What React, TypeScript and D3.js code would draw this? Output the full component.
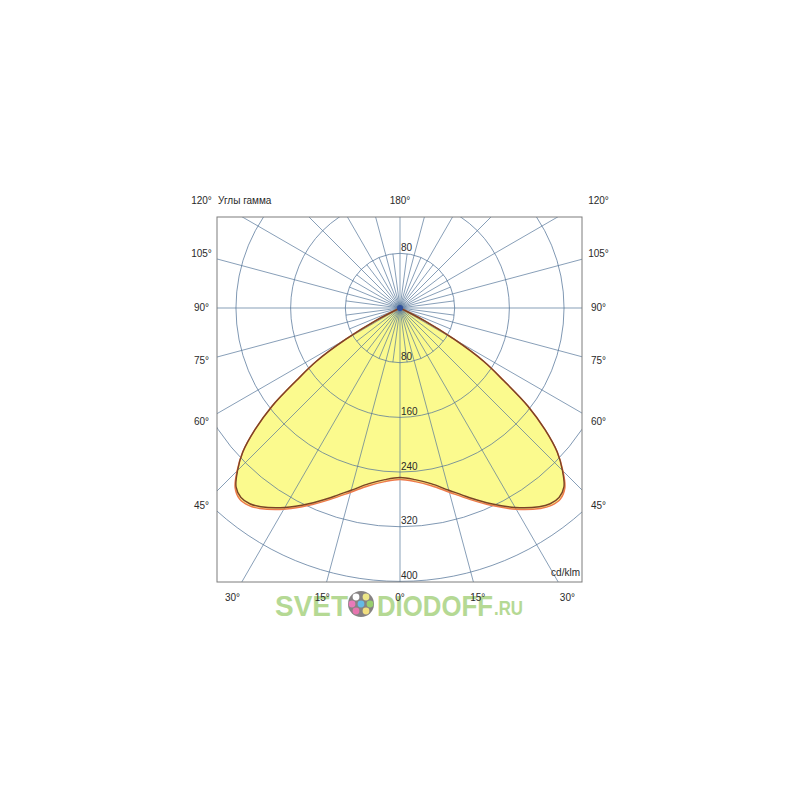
import React from "react";
import * as d3 from "d3";

// ---- data ----
const ringValues = [80, 160, 240, 320, 400];
const upperRingLabels = [80];
const sideLabelAngles = [45, 60, 75, 90, 105, 120];
const bottomLabelAngles = [0, 15, 30];
const topLabelAngles = [180];
const majorRayStep = 15;
const minorRayStep = 7.5;
const minorRayReach = 80; // cd/klm
const gammaDeg = [0, 5, 10, 15, 20, 25, 30, 35, 37.5, 40, 42.5, 45, 47.5, 50, 52.5, 55, 57.5, 60, 62.5, 65];
const c0c180 = [248, 252, 261, 276, 295, 316, 337, 355, 361, 362, 355, 336, 312, 277, 236, 185, 145, 92, 40, 0];
const c90c270 = [251, 255, 264, 279, 298, 319, 340, 358, 364, 365, 357, 337, 312, 277, 236, 185, 145, 92, 40, 0];
const titleText = "Углы гамма";
const unitText = "cd/klm";

const W = 800, H = 800;
const CX = 400, CY = 308;
const BOX = { x0: 217, y0: 217, x1: 582, y1: 582 };
const FONT = "'Liberation Sans', Arial, sans-serif";

const rScale = d3.scaleLinear().domain([0, 400]).range([0, 273.4]);
const rad = (g: number) => (g * Math.PI) / 180;

function mirrored(vals: number[]): [number, number][] {
  const left = gammaDeg.map((g, i) => [-g, vals[i]] as [number, number]).reverse();
  const right = gammaDeg.slice(1).map((g, i) => [g, vals[i + 1]] as [number, number]);
  return [...left, ...right];
}

const radial = d3
  .lineRadial<[number, number]>()
  .angle((d) => Math.PI - rad(d[0]))
  .radius((d) => rScale(d[1]))
  .curve(d3.curveCatmullRom.alpha(0.5));

export default function App() {
  const pathC0 = radial(mirrored(c0c180)) || "";
  const pathC90 = radial(mirrored(c90c270)) || "";

  const rays: { g: number; major: boolean }[] = [];
  for (let g = 0; g < 360; g += minorRayStep) rays.push({ g, major: g % majorRayStep === 0 });

  const gridColor = "#55769a";
  const textColor = "#2a2a2a";

  const sideX = 198.5;
  const sideLabels: { x: number; y: number; t: string }[] = [];
  sideLabelAngles.forEach((g) => {
    let y = CY + (sideX * Math.cos(rad(g))) / Math.sin(rad(g));
    y = Math.max(201, Math.min(598, y));
    sideLabels.push({ x: CX - sideX, y, t: `${g}°` });
    sideLabels.push({ x: CX + sideX, y, t: `${g}°` });
  });
  bottomLabelAngles.forEach((g) => {
    const dx = 290 * Math.tan(rad(g));
    sideLabels.push({ x: CX - dx, y: 598, t: `${g}°` });
    if (g !== 0) sideLabels.push({ x: CX + dx, y: 598, t: `${g}°` });
  });
  topLabelAngles.forEach((g) => sideLabels.push({ x: CX, y: 201, t: `${g}°` }));

  const dots = [
    { dx: -5, dy: -7, c: "#ffffff" },
    { dx: 5, dy: -7, c: "#e9e06a" },
    { dx: -9, dy: 0, c: "#e35aa8" },
    { dx: 0, dy: 0, c: "#3fa9e0" },
    { dx: 9, dy: 0, c: "#7fc24a" },
    { dx: -5, dy: 7, c: "#e0529a" },
    { dx: 5, dy: 7, c: "#f0d860" },
  ];

  return (
    <svg
      width={W}
      height={H}
      style={{ position: "absolute", left: 0, top: 0, background: "#fff" }}
      fontFamily={FONT}
    >
      <defs>
        <clipPath id="boxclip">
          <rect x={BOX.x0} y={BOX.y0} width={BOX.x1 - BOX.x0} height={BOX.y1 - BOX.y0} />
        </clipPath>
      </defs>
      <rect width={W} height={H} fill="#fff" />

      <g clipPath="url(#boxclip)">
        <g transform={`translate(${CX},${CY})`}>
          <path d={pathC90} fill="#fbfa8e" stroke="none" />
        </g>
        {ringValues.map((v) => (
          <circle key={v} cx={CX} cy={CY} r={rScale(v)} fill="none" stroke={gridColor} strokeWidth={0.75} />
        ))}
        {rays.map(({ g, major }) => {
          const len = major ? 600 : rScale(minorRayReach);
          return (
            <line
              key={g}
              x1={CX}
              y1={CY}
              x2={CX + len * Math.sin(rad(g))}
              y2={CY + len * Math.cos(rad(g))}
              stroke={gridColor}
              strokeWidth={0.7}
            />
          );
        })}
        <g transform={`translate(${CX},${CY})`}>
          <path d={pathC90} fill="none" stroke="#ee7a4c" strokeWidth={1.5} />
          <path d={pathC0} fill="none" stroke="#7a4326" strokeWidth={1.4} />
        </g>
        <circle cx={CX} cy={CY} r={3} fill="#2f4f9c" />
      </g>
      <rect
        x={BOX.x0}
        y={BOX.y0}
        width={BOX.x1 - BOX.x0}
        height={BOX.y1 - BOX.y0}
        fill="none"
        stroke="#7d7d7d"
        strokeWidth={1}
      />

      {ringValues.map((v) => (
        <text key={`l${v}`} x={CX + 1} y={CY + rScale(v) - 5} fontSize={10} fill={textColor} dominantBaseline="middle">
          {v}
        </text>
      ))}
      {upperRingLabels.map((v) => (
        <text key={`u${v}`} x={CX + 1} y={CY - rScale(v) - 5} fontSize={10} fill={textColor} dominantBaseline="middle">
          {v}
        </text>
      ))}

      <text x={218} y={201} fontSize={10} fill={textColor} dominantBaseline="middle">
        {titleText}
      </text>
      <text x={580} y={573} fontSize={10} fill={textColor} textAnchor="end" dominantBaseline="middle">
        {unitText}
      </text>

      {/* watermark */}
      <g opacity={0.8}>
        <text x={275} y={616} fontSize={30} fontWeight="bold" fill="#a3d07a" textLength={73} lengthAdjust="spacingAndGlyphs">
          SVET
        </text>
        <circle cx={361} cy={604} r={13} fill="#686464" />
        {dots.map((d, i) => (
          <circle key={i} cx={361 + d.dx} cy={604 + d.dy} r={3.4} fill={d.c} />
        ))}
        <text x={377} y={616} fontSize={30} fontWeight="bold" fill="#a3d07a" textLength={116} lengthAdjust="spacingAndGlyphs">
          DIODOFF
        </text>
        <text x={494} y={615} fontSize={21} fontWeight="bold" fill="#a3d07a" textLength={29} lengthAdjust="spacingAndGlyphs">
          .RU
        </text>
      </g>

      {sideLabels.map((l, i) => (
        <text key={`s${i}`} x={l.x} y={l.y} fontSize={10} fill={textColor} textAnchor="middle" dominantBaseline="middle">
          {l.t}
        </text>
      ))}
    </svg>
  );
}
